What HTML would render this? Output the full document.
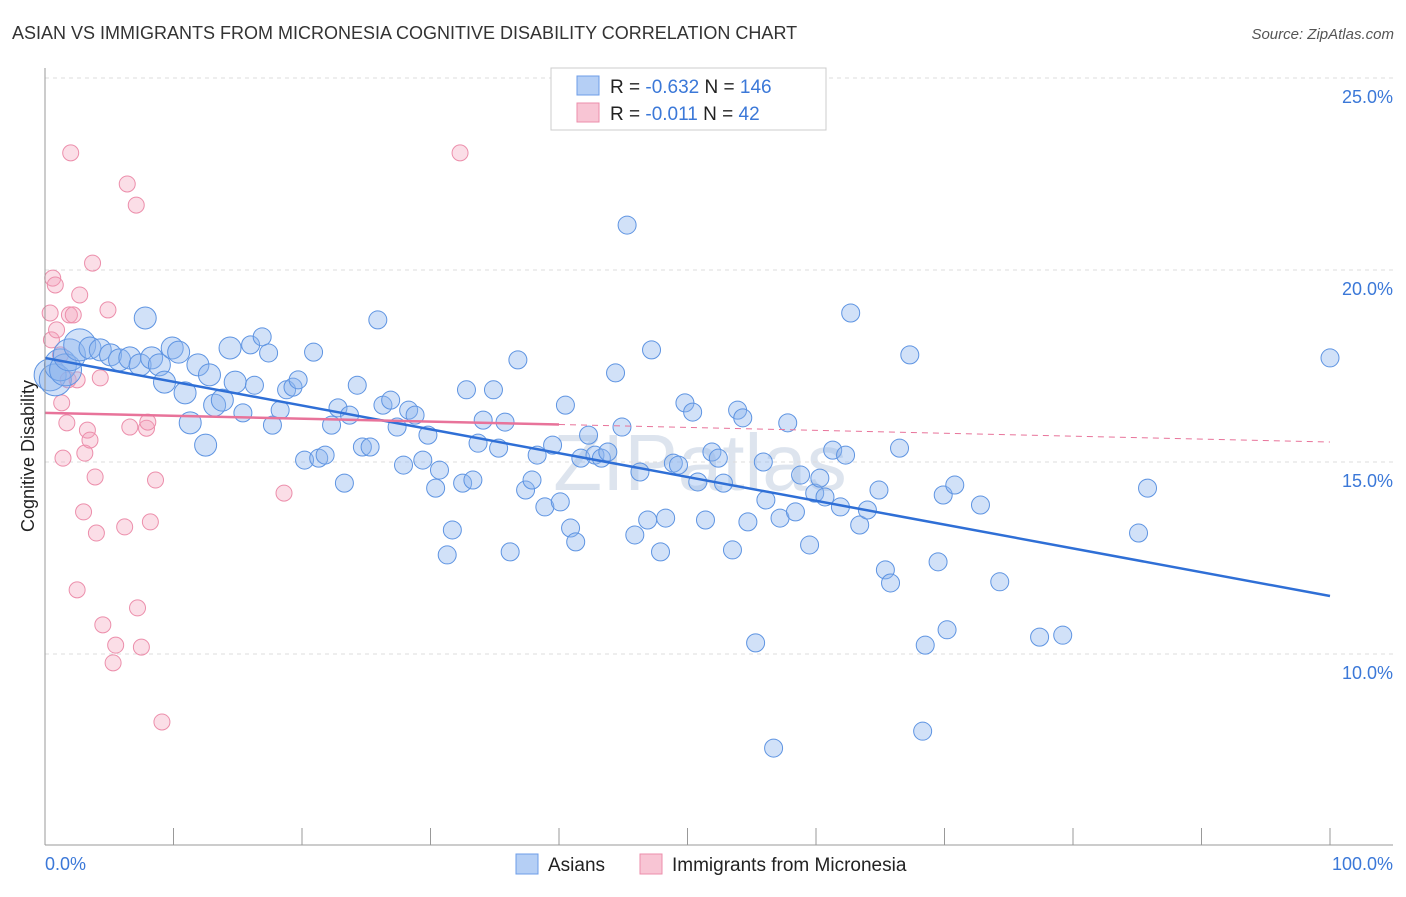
<!DOCTYPE html><html><head><meta charset="utf-8"><style>
body{margin:0;background:#fff;font-family:"Liberation Sans",sans-serif}
svg text{font-family:"Liberation Sans",sans-serif}
</style></head><body>
<svg id="c" width="1406" height="892">
<text x="12" y="39" font-size="18" fill="#333">ASIAN VS IMMIGRANTS FROM MICRONESIA COGNITIVE DISABILITY CORRELATION CHART</text>
<text x="1394" y="39" font-size="15" fill="#555" font-style="italic" text-anchor="end">Source: ZipAtlas.com</text>
<text x="700" y="490" font-size="80" fill="#dde4ee" text-anchor="middle" font-family="Liberation Serif">ZIPatlas</text>
<g id="grid"></g><g id="pts"></g><g id="lines"></g>
<line x1="45" y1="68" x2="45" y2="845" stroke="#999"/>
<line x1="45" y1="845" x2="1393" y2="845" stroke="#999"/>
<text transform="translate(34,456) rotate(-90)" font-size="18" fill="#222" text-anchor="middle">Cognitive Disability</text>
<text x="45" y="870" font-size="18" fill="#3b78d8">0.0%</text>
<text x="1393" y="870" font-size="18" fill="#3b78d8" text-anchor="end">100.0%</text>
<g>
<rect x="551" y="68" width="275" height="62" fill="#fff" stroke="#ccc"/>
<rect x="577" y="76" width="22" height="19" fill="#b5cff5" stroke="#6d9de8"/>
<rect x="577" y="103" width="22" height="19" fill="#f8c5d4" stroke="#ec8eab"/>
<text x="610" y="93" font-size="19" fill="#222">R = <tspan fill="#3b78d8">-0.632</tspan>   N = <tspan fill="#3b78d8">146</tspan></text>
<text x="610" y="120" font-size="19" fill="#222">R =  <tspan fill="#3b78d8">-0.011</tspan>   N =   <tspan fill="#3b78d8">42</tspan></text>
</g>
<g>
<rect x="516" y="854" width="22" height="20" fill="#b5cff5" stroke="#6d9de8"/>
<text x="548" y="871" font-size="19" fill="#222">Asians</text>
<rect x="640" y="854" width="22" height="20" fill="#f8c5d4" stroke="#ec8eab"/>
<text x="672" y="871" font-size="19" fill="#222">Immigrants from Micronesia</text>
</g>
</svg>
<script>
const yTicks=[25,20,15,10];
const xTicks=[0,10,20,30,40,50,60,70,80,90,100];
const asianX=[0.4,0.8,1.2,1.6,1.9,2.7,3.5,4.3,5.1,5.8,6.6,7.4,7.8,8.3,8.9,9.3,9.9,10.4,10.9,11.3,11.9,12.5,12.8,13.2,13.8,14.4,14.8,15.4,16.0,16.3,16.9,17.4,17.7,18.3,18.8,19.3,19.7,20.2,20.9,21.3,21.8,22.3,22.8,23.3,23.7,24.3,24.7,25.3,25.9,26.3,26.9,27.4,27.9,28.3,28.8,29.4,29.8,30.4,30.7,31.3,31.7,32.5,32.8,33.3,33.7,34.1,34.9,35.3,35.8,36.2,36.8,37.4,37.9,38.3,38.9,39.5,40.1,40.5,40.9,41.3,41.7,42.3,42.8,43.3,43.8,44.4,44.9,45.3,45.9,46.3,46.9,47.2,47.9,48.3,48.9,49.3,49.8,50.4,50.8,51.4,51.9,52.4,52.8,53.5,53.9,54.3,54.7,55.3,55.9,56.1,56.7,57.2,57.8,58.4,58.8,59.5,59.9,60.3,60.7,61.3,61.9,62.3,62.7,63.4,64.0,64.9,65.4,65.8,66.5,67.3,68.5,69.5,69.9,70.2,70.8,72.8,74.3,77.4,79.2,85.1,85.8,100,68.3];
const asianY=[17.27,17.14,17.53,17.4,17.79,18.05,17.97,17.92,17.79,17.66,17.71,17.53,18.75,17.71,17.53,17.08,17.97,17.86,16.8,16.02,17.53,15.44,17.27,16.48,16.61,17.97,17.08,16.28,18.05,17.0,18.26,17.84,15.96,16.35,16.88,16.95,17.14,15.05,17.86,15.1,15.18,15.96,16.41,14.45,16.22,17.0,15.39,15.39,18.7,16.48,16.61,15.91,14.92,16.35,16.22,15.05,15.7,14.32,14.79,12.58,13.23,14.45,16.88,14.53,15.49,16.09,16.88,15.36,16.04,12.66,17.66,14.27,14.53,15.18,13.83,15.44,13.96,16.48,13.28,12.92,15.1,15.7,15.18,15.1,15.26,17.32,15.91,21.17,13.1,14.74,13.49,17.92,12.66,13.54,14.97,14.92,16.54,16.3,14.48,13.49,15.26,15.1,14.45,12.71,16.35,16.15,13.44,10.29,15.0,14.01,7.55,13.54,16.02,13.7,14.66,12.84,14.19,14.58,14.09,15.31,13.83,15.18,18.88,13.36,13.75,14.27,12.19,11.85,15.36,17.79,10.23,12.4,14.14,10.63,14.4,13.88,11.88,10.44,10.49,13.15,14.32,17.71,7.99];
const micX=[0.4,0.5,0.6,0.8,0.9,1.2,1.3,1.4,1.7,1.8,1.9,2.0,2.2,2.5,2.7,3.0,3.3,3.1,3.5,3.7,3.9,4.0,4.3,4.5,4.9,5.3,5.5,6.2,6.4,6.6,7.1,7.2,7.5,7.9,8.0,8.2,8.6,9.1,2.5,18.6,32.3];
const micY=[18.88,18.18,19.79,19.61,18.44,17.79,16.54,15.1,16.02,17.14,18.83,23.05,18.83,17.14,19.35,13.7,15.83,15.23,15.57,20.18,14.61,13.15,17.19,10.76,18.96,9.77,10.23,13.31,22.24,15.91,21.69,11.2,10.18,15.88,16.04,13.44,14.53,8.23,11.67,14.19,23.05];
const asianTrend=[17.71,11.51];
const micTrend=[16.28,15.52];
const NS="http://www.w3.org/2000/svg";
const X=v=>45+v*12.85, Y=v=>270-(v-20)*38.4;
function mk(t,a,p){const e=document.createElementNS(NS,t);for(const k in a)e.setAttribute(k,a[k]);p.appendChild(e);return e;}
const grid=document.getElementById('grid'),pts=document.getElementById('pts'),lines=document.getElementById('lines');
yTicks.forEach(t=>{
 const l=mk('line',{x1:45,x2:1393,y1:Y(t),y2:Y(t),stroke:'#ddd','stroke-dasharray':'4,4'},grid);
 
 
 const tx=mk('text',{x:1393,y:Y(t)+25,'font-size':18,fill:'#3b78d8','text-anchor':'end'},grid);
 tx.textContent=t.toFixed(1)+'%';
 
 
});
xTicks.forEach(t=>{
 const l=mk('line',{x1:X(t),x2:X(t),y1:828,y2:845,stroke:'#999'},grid);
 
 
});
micX.forEach((x,i)=>{
 const c=mk('circle',{cx:X(x),cy:Y(micY[i]),r:8,fill:'rgba(244,160,185,0.35)',stroke:'#ec8eab','stroke-width':1},pts);
 
 
});
asianX.forEach((x,i)=>{
 const r=x<3?16:(x<15?11:9);
 const c=mk('circle',{cx:X(x),cy:Y(asianY[i]),r:r,fill:'rgba(140,180,238,0.4)',stroke:'#5e94e2','stroke-width':1},pts);
 
 
});
const bl=mk('line',{x1:X(0),y1:Y(asianTrend[0]),x2:X(100),y2:Y(asianTrend[1]),stroke:'#2f6fd6','stroke-width':2.5},lines);


const mAt=v=>micTrend[0]+(micTrend[1]-micTrend[0])*v/100;
const pl=mk('line',{x1:X(0),y1:Y(mAt(0)),x2:X(40),y2:Y(mAt(40)),stroke:'#e8739a','stroke-width':2.5},lines);


const pd=mk('line',{x1:X(40),y1:Y(mAt(40)),x2:X(100),y2:Y(mAt(100)),stroke:'#e8739a','stroke-width':1,'stroke-dasharray':'6,5'},lines);


</script>
</body></html>
